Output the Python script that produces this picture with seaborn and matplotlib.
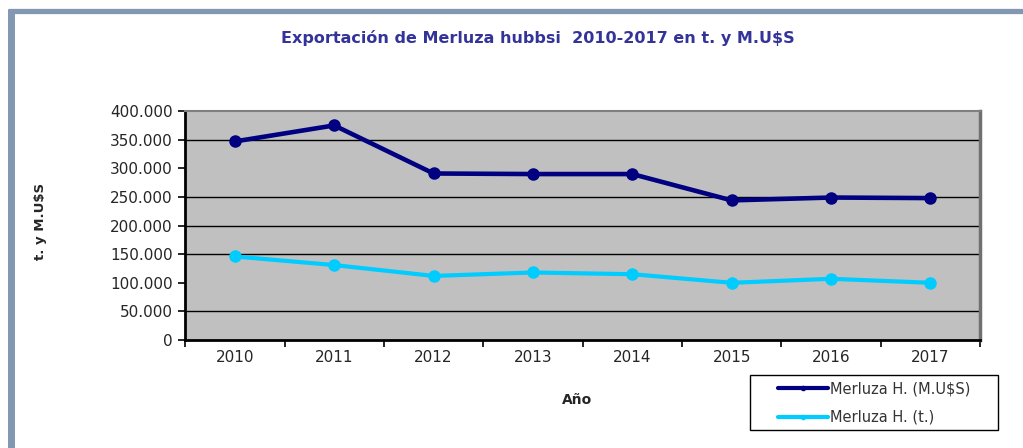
import pandas as pd
import matplotlib
matplotlib.use("Agg")
import matplotlib.pyplot as plt
from matplotlib.lines import Line2D
from matplotlib.patches import Rectangle
from matplotlib.ticker import FuncFormatter
import seaborn as sns

# --- Data ---
years = ["2010", "2011", "2012", "2013", "2014", "2015", "2016", "2017"]
valor_musd = [347000, 375000, 291000, 290000, 290000, 244000, 249000, 248000]
toneladas = [146000, 131000, 112000, 118000, 115000, 100000, 107000, 100000]
series_names = ["Merluza H. (M.U$S)", "Merluza H. (t.)"]
grid_values = [350000, 250000, 200000, 150000, 50000]

COLORS = {series_names[0]: "#000080", series_names[1]: "#00ccff"}
FONT = ["DejaVu Sans"]

df = pd.DataFrame({
    "pos": list(range(len(years))) * 2,
    "valor": valor_musd + toneladas,
    "serie": [series_names[0]] * len(years) + [series_names[1]] * len(years),
})

sns.set_style("white")
plt.rcParams["font.family"] = FONT

fig = plt.figure(figsize=(10.23, 4.48), dpi=100)
ax = fig.add_axes([0.181, 0.241, 0.777, 0.511])
ax.set_facecolor("#c0c0c0")
ax.grid(False)

for value in grid_values:
    ax.axhline(value, color="black", lw=1.0, zorder=1)

sns.lineplot(data=df[df["serie"] == series_names[0]], x="pos", y="valor",
             color=COLORS[series_names[0]], lw=3.3, marker="o", markersize=9,
             markeredgewidth=0, legend=False, ax=ax, zorder=3)
sns.lineplot(data=df[df["serie"] == series_names[1]], x="pos", y="valor",
             color=COLORS[series_names[1]], lw=3.0, marker="o", markersize=9,
             markeredgewidth=0, legend=False, ax=ax, zorder=3)

ax.set_xlim(-0.5, len(years) - 0.5)
ax.set_ylim(0, 400000)

# category boundaries as major ticks, labels at centers
ax.set_xticks([i - 0.5 for i in range(len(years) + 1)])
ax.set_xticklabels([])
ax.set_xticks(range(len(years)), minor=True)
ax.set_xticklabels(years, minor=True, fontsize=11)
ax.tick_params(axis="x", which="major", direction="out", length=5, width=1.2,
               color="black", bottom=True)
ax.tick_params(axis="x", which="minor", length=0, pad=7)

ax.set_yticks(range(0, 400001, 50000))
ax.yaxis.set_major_formatter(FuncFormatter(lambda v, p: f"{int(v):,}".replace(",", ".")))
ax.tick_params(axis="y", direction="out", length=5, width=1.2, color="black",
               labelsize=11, left=True, pad=4)

for side in ["left", "bottom"]:
    ax.spines[side].set_color("black")
    ax.spines[side].set_linewidth(2)
ax.spines["top"].set_color("#808080")
ax.spines["top"].set_linewidth(1.5)
ax.spines["right"].set_color("#707070")
ax.spines["right"].set_linewidth(2.5)

ax.set_xlabel("")
ax.set_ylabel("")

fig.text(0.526, 0.915, "Exportación de Merluza hubbsi  2010-2017 en t. y M.U\\$S",
         ha="center", va="center", fontsize=11.5, fontweight="bold", color="#333399")
fig.text(0.564, 0.107, "Año", ha="center", va="center", fontsize=10, fontweight="bold")
fig.text(0.040, 0.505, "t. y M.U\\$S", ha="center", va="center", rotation=90,
         fontsize=9.5, fontweight="bold")

# legend: box drawn separately, entries inset like the reference
fig.add_artist(Rectangle((750 / 1023, 1 - 430 / 448), 248 / 1023, 55 / 448,
                         transform=fig.transFigure, facecolor="white",
                         edgecolor="black", lw=1.0))
handles = [Line2D([0], [0], color=COLORS[name], lw=3, marker="o", markersize=3)
           for name in series_names]
labels = [name.replace("$", "\\$") for name in series_names]
leg = fig.legend(handles, labels, loc="center left",
                 bbox_to_anchor=(778 / 1023, 1 - 403 / 448),
                 frameon=False, fontsize=10.5,
                 handlelength=3.4, handletextpad=0.15, labelspacing=0.95,
                 borderpad=0, borderaxespad=0)
for text in leg.get_texts():
    text.set_color("#333333")

# outer frame (top and left edges visible in the reference)
fig.add_artist(Line2D([0.008, 1.0], [1 - 11.5 / 448, 1 - 11.5 / 448], color="#8297b2",
                      lw=3.8, transform=fig.transFigure, solid_capstyle="butt"))
fig.add_artist(Line2D([11 / 1023, 11 / 1023], [0, 1 - 9 / 448], color="#8297b2",
                      lw=5.0, transform=fig.transFigure, solid_capstyle="butt"))

fig.savefig("out.png", dpi=100)
